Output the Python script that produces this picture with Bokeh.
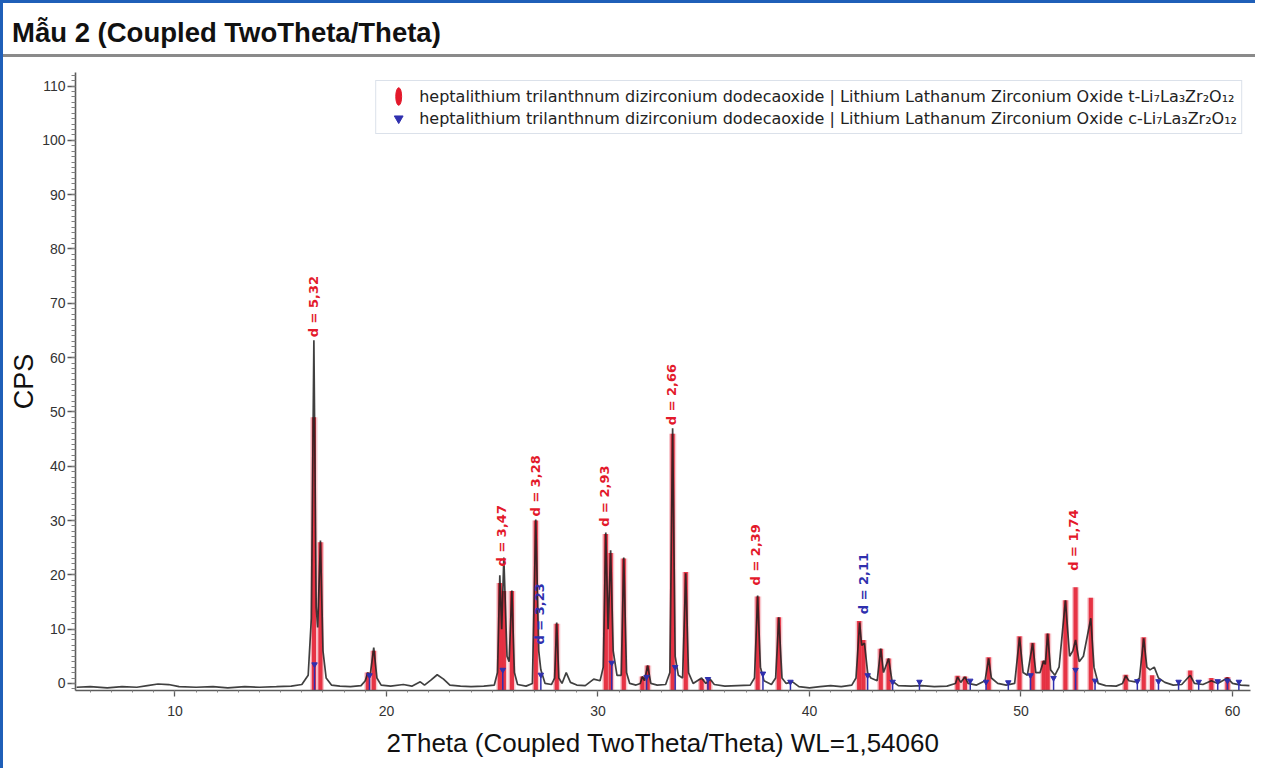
from math import pi
from bokeh.plotting import figure
from bokeh.models import Range1d, Legend, LegendItem, ColumnDataSource, SingleIntervalTicker, Div
from bokeh.layouts import column
from bokeh.embed import file_html
from bokeh.resources import INLINE
from bokeh.core.properties import value

# ---------------- data ----------------
title_text = "Mẫu 2 (Coupled TwoTheta/Theta)"
x_label = "2Theta (Coupled TwoTheta/Theta) WL=1,54060"
y_label = "CPS"

two_theta = [5.35, 6.0, 6.8, 7.5, 8.2, 8.7, 9.2, 9.7, 10.2, 11.0, 11.8, 12.5, 13.3, 14.0, 14.8, 15.5,
             16.0, 16.3, 16.45, 16.57, 16.68, 16.75, 16.88, 17.0, 17.15, 17.4, 17.8, 18.3, 18.8,
             19.0, 19.12, 19.22, 19.40, 19.55, 19.75, 20.2, 20.8, 21.2, 21.6, 21.8, 22.1, 22.4,
             22.7, 23.0, 23.5, 24.0, 24.6, 25.1, 25.25, 25.36, 25.45, 25.55, 25.7, 25.8, 25.93,
             26.05, 26.2, 26.6, 26.9, 27.06, 27.2, 27.3, 27.5, 27.8, 27.95, 28.05, 28.15, 28.3,
             28.5, 28.7, 29.0, 29.4, 29.8, 30.1, 30.25, 30.37, 30.48, 30.6, 30.72, 30.9, 31.1,
             31.22, 31.35, 31.5, 31.8, 32.0, 32.1, 32.2, 32.35, 32.5, 32.8, 33.2, 33.4, 33.53,
             33.65, 33.8, 34.0, 34.15, 34.28, 34.5, 34.9, 35.1, 35.3, 35.5, 36.0, 36.6, 37.2,
             37.4, 37.55, 37.68, 37.85, 38.2, 38.4, 38.55, 38.7, 38.9, 39.2, 39.5, 40.0, 40.5,
             41.0, 41.5, 42.0, 42.2, 42.37, 42.47, 42.6, 42.75, 42.9, 43.2, 43.37, 43.5, 43.74,
             43.9, 44.2, 44.8, 45.3, 45.9, 46.5, 46.9, 47.0, 47.15, 47.35, 47.5, 47.9, 48.3,
             48.47, 48.6, 48.9, 49.3, 49.7, 49.93, 50.1, 50.3, 50.55, 50.7, 50.9, 51.07, 51.15,
             51.26, 51.4, 51.6, 51.8, 52.1, 52.3, 52.45, 52.58, 52.75, 52.95, 53.3, 53.45, 53.65,
             54.0, 54.5, 54.8, 54.95, 55.1, 55.4, 55.6, 55.8, 55.95, 56.1, 56.3, 56.5, 56.8,
             57.2, 57.6, 58.0, 58.2, 58.6, 59.0, 59.3, 59.76, 60.0, 60.4, 60.8]
cps = [-0.7, -0.6, -0.8, -0.6, -0.7, -0.4, -0.1, -0.2, -0.6, -0.7, -0.6, -0.8, -0.6, -0.7, -0.6, -0.5,
       -0.2, 1.5, 12.0, 63.2, 14.0, 10.3, 26.3, 6.0, 1.0, -0.3, -0.5, -0.6, -0.4,
       0.5, 2.0, 1.2, 6.6, 1.0, -0.3, -0.5, -0.2, -0.5, 0.3, -0.3, 0.6, 1.6,
       0.8, -0.3, -0.5, -0.6, -0.5, -0.3, 2.0, 19.9, 10.0, 23.2, 5.0, 4.0, 17.1,
       2.0, -0.2, -0.5, 0.0, 30.2, 6.0, 2.5, 0.0, -0.2, 1.0, 11.2, 1.0, 0.0,
       2.0, 0.2, -0.3, -0.4, 0.8, 0.5, 3.0, 27.8, 10.0, 24.5, 6.0, 1.5, 1.5,
       23.2, 2.0, 0.0, -0.3, 0.0, 1.3, 0.5, 3.3, 0.0, -0.3, -0.2, 2.0, 47.0,
       5.0, 1.5, 1.0, 20.3, 2.0, 0.0, 1.0, 0.0, 0.8, -0.2, -0.5, -0.4, -0.3,
       1.0, 16.2, 3.0, 0.5, -0.2, 1.0, 12.2, 1.0, 0.0, 0.3, -0.6, -0.8, -0.6,
       -0.4, -0.6, -0.3, 1.0, 11.2, 7.0, 7.4, 2.0, 1.0, 0.5, 6.4, 2.0, 4.6,
       0.5, -0.4, -0.5, -0.4, -0.6, -0.5, 0.0, 1.2, 0.2, 1.2, 0.0, -0.3, 0.5,
       4.6, 1.0, 0.0, -0.3, 0.0, 8.5, 2.0, 1.5, 7.4, 2.0, 2.0, 4.2, 3.5,
       9.2, 2.5, 1.5, 3.0, 15.3, 5.0, 6.0, 8.0, 4.0, 5.0, 12.0, 3.0, 0.0,
       -0.4, -0.5, 0.0, 1.4, 0.5, 0.3, 1.0, 8.3, 3.0, 2.5, 3.0, 1.0, 0.2,
       -0.3, -0.2, 1.5, 0.0, -0.2, 0.5, 0.0, 1.0, 0.0, -0.3, -0.4]

# reference sticks: tetragonal t-LLZO (red)
t_pos = [16.57, 16.88, 19.12, 19.40, 25.36, 25.55, 25.93, 27.06, 28.05, 30.37, 30.60, 31.22,
         32.10, 32.35, 33.53, 34.15, 34.90, 35.25, 37.55, 38.55, 42.35, 42.55, 43.37, 43.74,
         47.00, 47.35, 48.47, 49.93, 50.55, 51.07, 51.26, 52.10, 52.58, 53.30, 54.95, 55.80,
         56.20, 58.00, 59.00, 59.76]
t_int = [49.0, 26.0, 2.0, 6.0, 18.5, 17.0, 17.0, 30.0, 11.0, 27.5, 24.0, 23.0,
         1.3, 3.3, 46.0, 20.5, 0.8, 0.6, 16.0, 12.2, 11.5, 8.0, 6.4, 4.6,
         1.4, 1.3, 4.8, 8.7, 7.5, 4.2, 9.2, 15.3, 17.7, 15.8, 1.6, 8.5,
         1.5, 2.4, 1.0, 1.2]

# reference sticks: cubic c-LLZO (blue)
c_pos = [16.60, 19.20, 25.50, 27.30, 30.65, 32.30, 33.65, 35.20, 37.80, 39.10, 42.75, 43.93,
         45.20, 47.60, 48.35, 49.40, 50.45, 51.54, 52.58, 53.50, 55.50, 56.50, 57.45, 58.40,
         59.30, 59.76, 60.30]
c_int = [3.5, 1.5, 2.5, 1.6, 3.8, 1.2, 3.0, 0.8, 1.8, 0.3, 1.5, 0.3,
         0.3, 0.5, 0.3, 0.2, 1.5, 1.0, 2.5, 0.5, 0.4, 0.4, 0.3, 0.3,
         0.4, 0.5, 0.3]

# d-spacing labels
label_text = ["d = 5,32", "d = 3,47", "d = 3,28", "d = 3,23", "d = 2,93", "d = 2,66",
              "d = 2,39", "d = 2,11", "d = 1,74"]
label_x = [16.57, 25.45, 27.06, 27.25, 30.33, 33.50, 37.45, 42.55, 52.50]
label_y = [63.2, 21.0, 30.2, 6.6, 28.3, 47.0, 17.5, 12.2, 20.2]
label_phase = ["t", "t", "t", "c", "t", "t", "t", "c", "t"]

legend_t = ("heptalithium trilanthnum dizirconium dodecaoxide | "
            "Lithium Lathanum Zirconium Oxide t-Li\u2087La\u2083Zr\u2082O\u2081\u2082")
legend_c = ("heptalithium trilanthnum dizirconium dodecaoxide | "
            "Lithium Lathanum Zirconium Oxide c-Li\u2087La\u2083Zr\u2082O\u2081\u2082")

# ---------------- styles ----------------
RED = "#e3192b"
BLUE = "#2f2fae"
Y0 = -1.3
FONT = "Liberation Sans"

header = Div(
    text=('<div style="box-sizing:border-box;width:1252px;height:54px;'
          'padding:14px 0 0 9px;border-bottom:3px solid #8a8a8a;'
          "font-family:'Liberation Sans',Arial,sans-serif;font-weight:bold;"
          'font-size:27.5px;line-height:1.15;color:#111111;white-space:nowrap;">'
          + title_text + '</div>'),
    width=1252, height=54, margin=0)

p = figure(frame_width=1175, frame_height=618, x_range=Range1d(5.3, 60.85),
           y_range=Range1d(Y0, 112.5), output_backend="svg", toolbar_location=None,
           min_border_left=72, min_border_right=5, min_border_top=15, min_border_bottom=78,
           x_axis_label=x_label, y_axis_label=y_label, margin=0)
p.outline_line_color = None
p.xgrid.visible = False
p.ygrid.visible = False
p.background_fill_color = "white"
p.border_fill_color = "white"

p.xaxis.ticker = SingleIntervalTicker(interval=10, num_minor_ticks=10)
p.yaxis.ticker = SingleIntervalTicker(interval=10, num_minor_ticks=10)
for ax in (p.xaxis[0], p.yaxis[0]):
    ax.axis_line_color = "#5a5a5a"
    ax.axis_line_width = 1.6
    ax.major_tick_line_color = "#5a5a5a"
    ax.major_tick_line_width = 1.3
    ax.major_tick_in = 0
    ax.minor_tick_line_color = "#808080"
    ax.minor_tick_in = 0
    ax.major_label_text_font = FONT
    ax.major_label_text_font_size = "14px"
    ax.major_label_text_color = "#333333"
    ax.axis_label_text_font = FONT
    ax.axis_label_text_font_style = "normal"
    ax.axis_label_text_color = "#111111"
p.yaxis.major_tick_out = 8
p.xaxis.major_tick_out = 6
p.yaxis.minor_tick_out = 4
p.xaxis.minor_tick_out = 2
p.xaxis.major_label_standoff = 9
p.yaxis.major_label_standoff = 2
p.xaxis.axis_label_text_font_size = "26px"
p.yaxis.axis_label_text_font_size = "27px"
p.xaxis.axis_label_standoff = 9
p.yaxis.axis_label_standoff = 0

# red reference sticks (pink halo + red core)
p.vbar(x=t_pos, top=t_int, bottom=Y0, width=0.34, fill_color="#f39aa5", fill_alpha=0.55,
       line_color=None)
p.vbar(x=t_pos, top=t_int, bottom=Y0, width=0.2, fill_color=RED, fill_alpha=0.85,
       line_color=None)

# measured curve
p.line(two_theta, cps, line_color="#1e1e1e", line_width=1.7, line_alpha=0.85)

# blue reference sticks
p.segment(x0=c_pos, y0=[Y0] * len(c_pos), x1=c_pos, y1=c_int, line_color=BLUE, line_width=1.5)
blue_pts = p.scatter(c_pos, c_int, marker="inverted_triangle", size=5.5, fill_color=BLUE,
                     line_color=BLUE)

# legend-only glyph for the red phase: a 1:3 ellipse too small to be seen in the plot
red_leg = p.ellipse(x=t_pos, y=t_int, width=0.001, height=0.003, width_units="screen",
                    height_units="screen", fill_color=RED, line_color=RED)

# d-spacing labels
lab_src = ColumnDataSource(dict(x=label_x, y=label_y, text=label_text,
                                color=[RED if ph == "t" else BLUE for ph in label_phase]))
p.text(x="x", y="y", text="text", source=lab_src, angle=pi / 2, text_align="left",
       text_baseline="middle", text_color="color", text_font=value("DejaVu Sans"),
       text_font_size="13px", text_font_style="bold", y_offset=-3)

legend = Legend(items=[LegendItem(label=legend_t, renderers=[red_leg]),
                       LegendItem(label=legend_c, renderers=[blue_pts])],
                location="top_right")
legend.margin = 8
legend.padding = 4
legend.spacing = 0
legend.glyph_width = 36
legend.glyph_height = 22
legend.label_standoff = 3
legend.label_text_font = "DejaVu Sans"
legend.label_text_font_size = "16px"
legend.label_text_color = "#222222"
legend.border_line_color = "#b7c3d6"
legend.border_line_width = 1.5
legend.background_fill_color = "white"
legend.background_fill_alpha = 1.0
p.add_layout(legend)

layout = column(header, p, spacing=0,
                styles={"border-left": "3px solid #1f5fb8", "border-top": "3px solid #1f5fb8"})

open("out.html", "w").write(file_html(layout, INLINE))
